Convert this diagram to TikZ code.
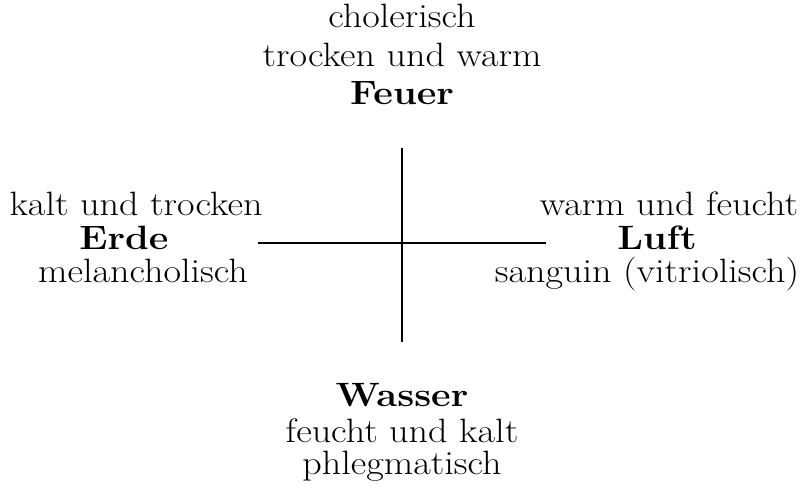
\documentclass[tikz,border=0pt]{standalone}
\usepackage{tikz}
\usetikzlibrary{positioning, calc}

\begin{document}
\begin{tikzpicture}[
	x=0.025cm, y=0.025cm,
	word/.style={anchor=base, inner sep=0pt, xscale=1.13, transform shape, font=\fontsize{24}{26}\selectfont},
	elem/.style={word, font=\fontsize{24}{26}\selectfont\bfseries},
	cross/.style={line width=0.9pt}
]
\useasboundingbox (0,0) rectangle (805,494);

% Center of the cross
\coordinate (C) at (402,251);
\coordinate (N) at (402,346);
\coordinate (S) at (402,152);
\coordinate (W) at (258,251);
\coordinate (E) at (546,251);
\draw[cross] (N) -- (S);
\draw[cross] (W) -- (E);

% Feuer (top)
\node[word] (chol) at (402,466) {cholerisch};
\node[word] (tw) at (402,427) {trocken und warm};
\node[elem] (Feuer) at (402,389) {Feuer};

% Erde (left)
\node[word] (kt) at (136,278) {kalt und trocken};
\node[elem] (Erde) at (124,244) {Erde};
\node[word] (mel) at (143,211) {melancholisch};

% Luft (right)
\node[word] (wf) at (669,278) {warm und feucht};
\node[elem] (Luft) at (657,244) {Luft};
\node[word] (sang) at (647,211) {sanguin (vitriolisch)};

% Wasser (bottom)
\node[elem] (Wasser) at (402,87) {Wasser};
\node[word] (fk) at (402,51) {feucht und kalt};
\node[word] (phl) at (402,19) {phlegmatisch};
\end{tikzpicture}
\end{document}
